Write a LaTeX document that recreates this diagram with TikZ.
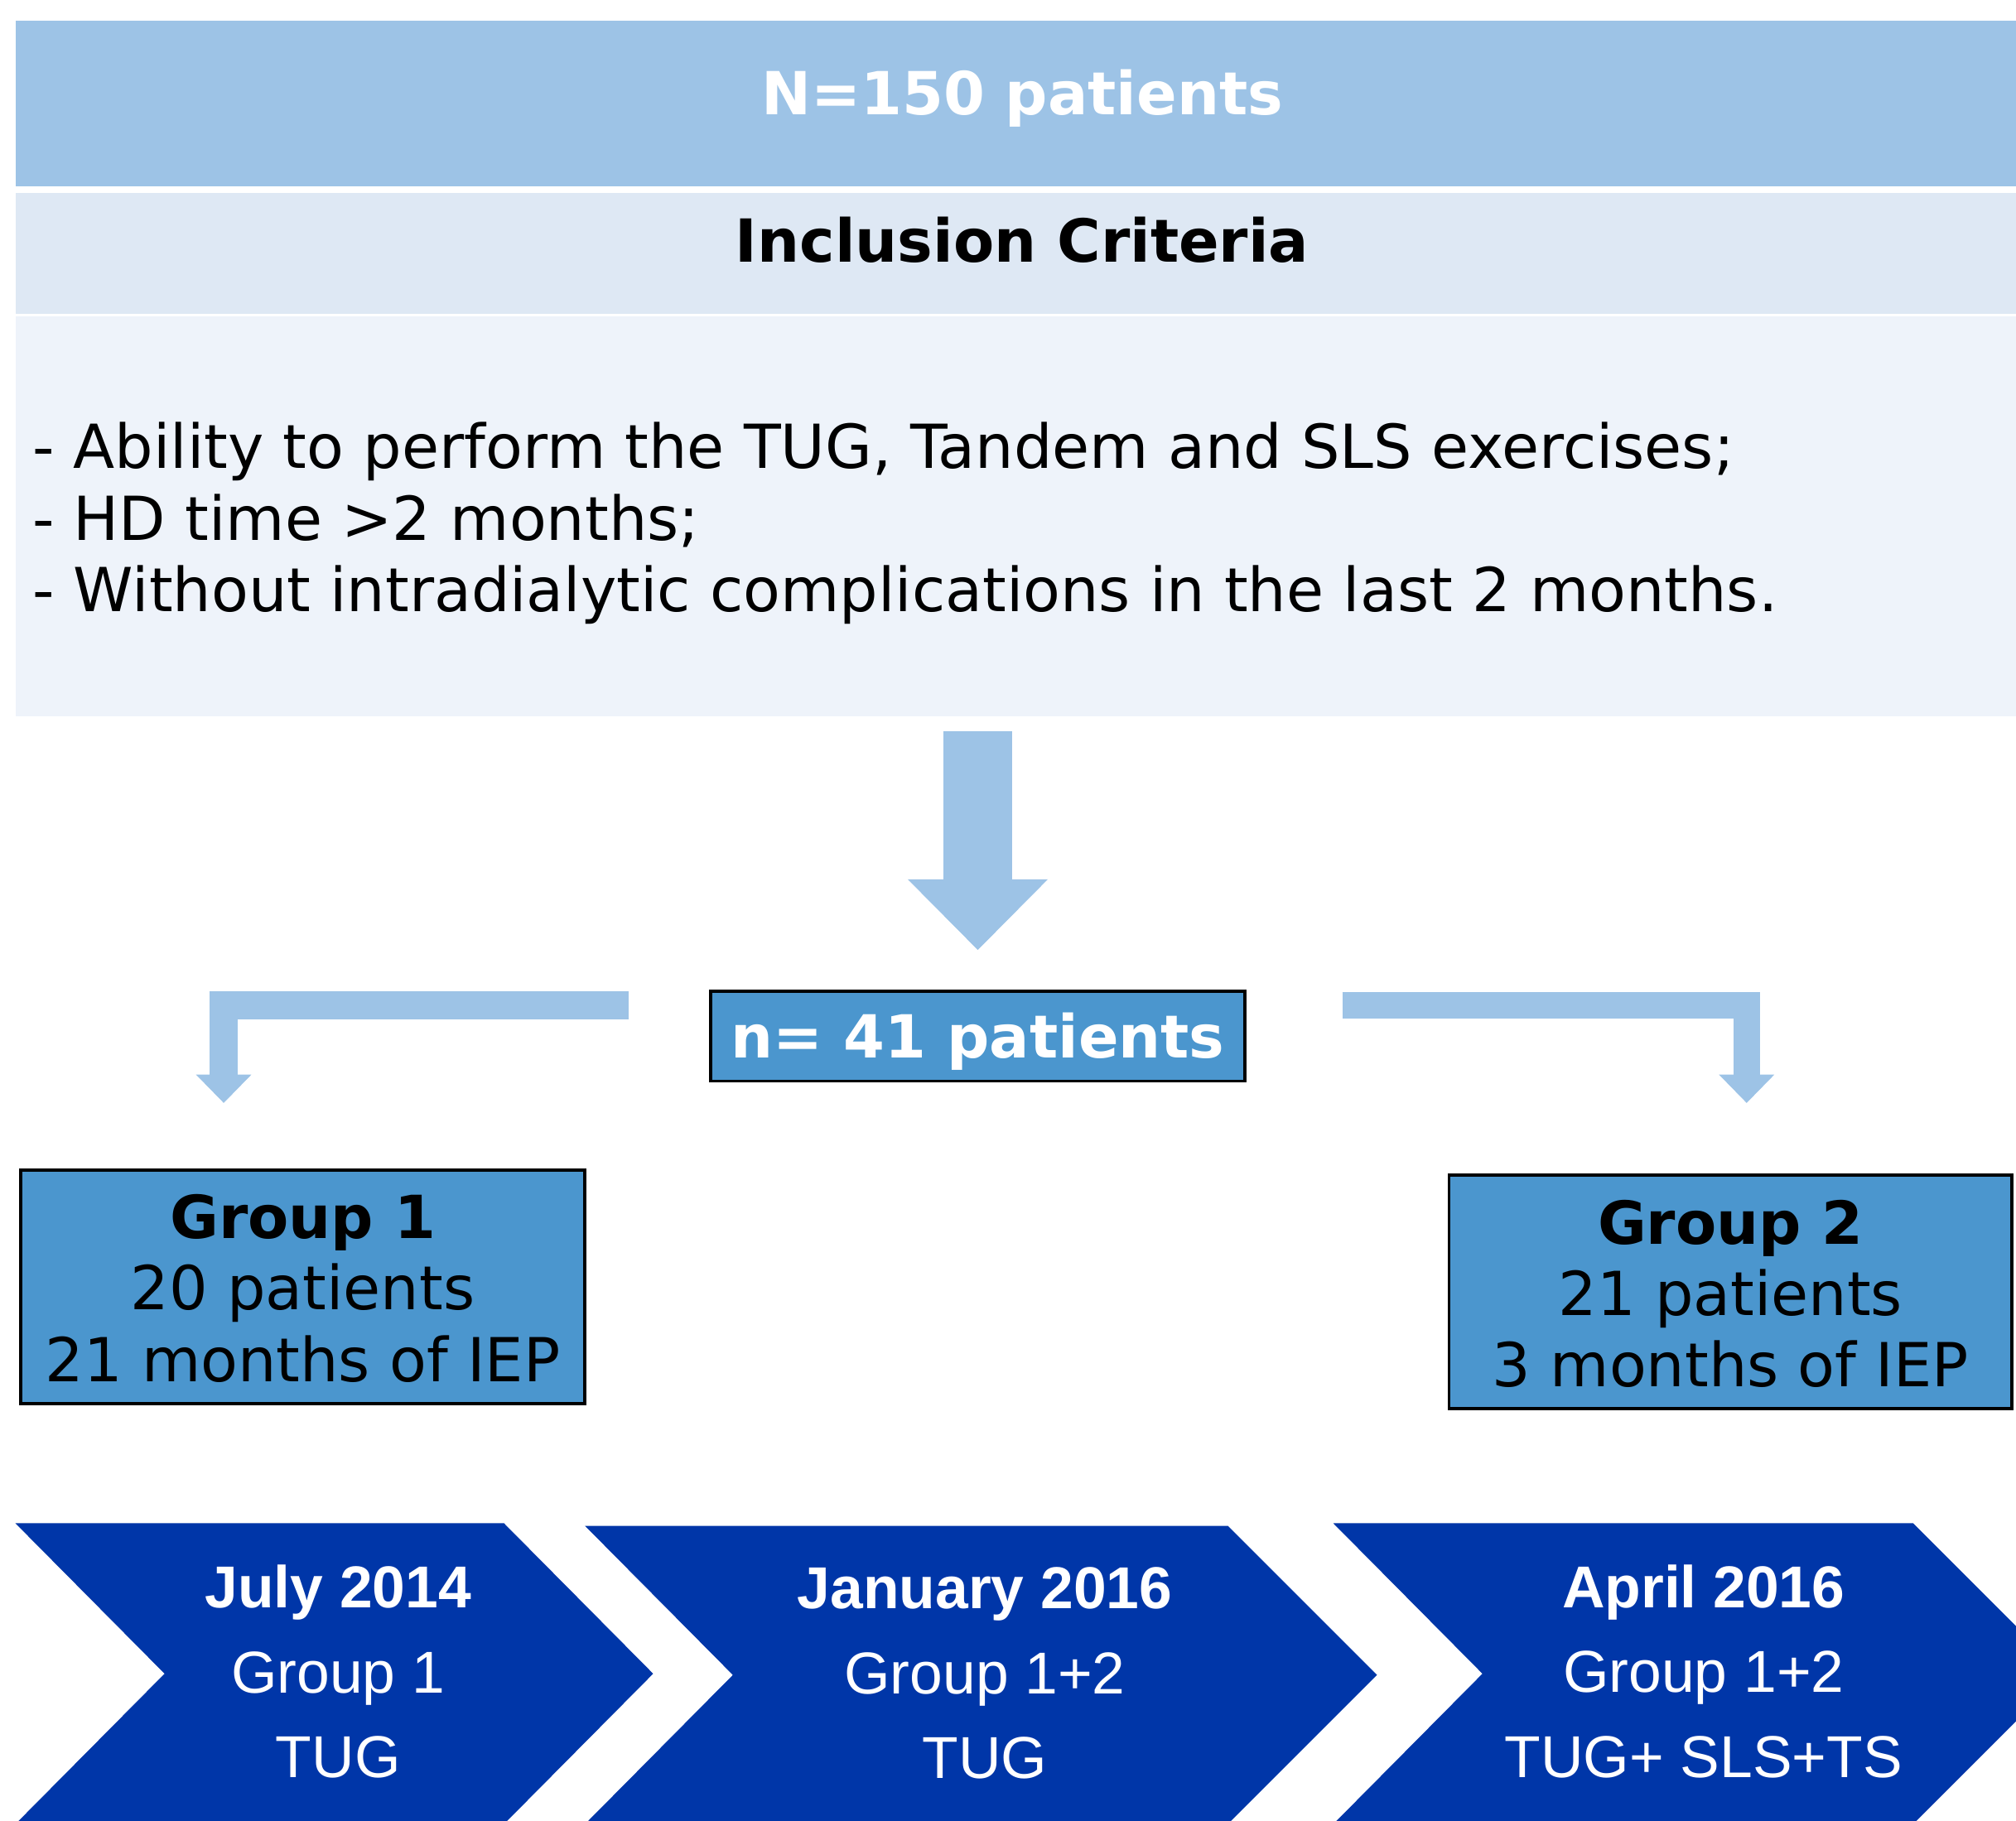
\documentclass[tikz,border=0pt]{standalone}
\usepackage{fontspec}
\setmainfont{DejaVu Sans}
\newfontfamily\arialf{Liberation Sans}
\usetikzlibrary{arrows.meta}
\definecolor{topblue}{HTML}{9DC3E6}
\definecolor{critband}{HTML}{DEE8F4}
\definecolor{critbody}{HTML}{EEF3FA}
\definecolor{boxblue}{HTML}{4B96CE}
\definecolor{chevblue}{HTML}{0036A8}
\begin{document}
\begin{tikzpicture}[x=1pt,y=-1pt,
  band/.style={draw=none, inner sep=0pt, outer sep=0pt, anchor=north west, minimum width=1560pt},
  bigbold/.style={font=\fontsize{46.2}{55}\selectfont\bfseries, inner sep=0pt, anchor=base},
  plaintxt/.style={font=\fontsize{47.2}{55}\selectfont, inner sep=0pt, anchor=base},
  groupbox/.style={draw=black, line width=2.5pt, fill=boxblue, inner sep=0pt},
  chevbold/.style={font=\fontsize{46}{55}\selectfont\arialf\bfseries, text=white, inner sep=0pt, anchor=base},
  chevplain/.style={font=\fontsize{46}{55}\selectfont\arialf, text=white, inner sep=0pt, anchor=base},
  fatarrow/.style={draw=topblue, line width=#1, line join=miter}
]
\useasboundingbox (0,0) rectangle (1568,1416);
\clip (0,0) rectangle (1568,1416);

% top section
\node[band, fill=topblue, minimum height=129pt] (top) at (12,16) {};
\node[band, fill=critband, minimum height=94pt] (critband) at (12,150) {};
\node[band, fill=critbody, minimum height=311pt] (body) at (12,246) {};
\node[bigbold, text=white] (ntxt) at (795,89) {N=150 patients};
\node[bigbold] (inc) at (795,204) {Inclusion Criteria};
\node[plaintxt, anchor=base west] (c1) at (25,364) {- Ability to perform the TUG, Tandem and SLS exercises;};
\node[plaintxt, anchor=base west] (c2) at (25,420.5) {- HD time >2 months;};
\node[plaintxt, anchor=base west] (c3) at (25,476) {- Without intradialytic complications in the last 2 months.};

% n=41 box
\node[groupbox, minimum width=415pt, minimum height=70pt, text=white,
      font=\fontsize{46.2}{55}\selectfont\bfseries, text height=34pt, text depth=0pt]
      (n41) at (760.5,806) {n= 41 patients};

% group boxes
\node[groupbox, minimum width=439pt, minimum height=182pt] (g1) at (235.5,1001) {};
\node[bigbold] (g1a) at (235.5,963.6) {Group 1};
\node[plaintxt] (g1b) at (235.5,1019) {20 patients};
\node[plaintxt] (g1c) at (235.5,1074.6) {21 months of IEP};

\node[groupbox, minimum width=438pt, minimum height=182pt] (g2) at (1346,1005) {};
\node[bigbold] (g2a) at (1346,968) {Group 2};
\node[plaintxt] (g2b) at (1346,1023.5) {21 patients};
\node[plaintxt] (g2c) at (1346,1079) {3 months of IEP};

% arrows
\coordinate (dstart) at (760.5,569);
\coordinate (dend) at (760.5,739);
\draw[fatarrow=54pt, -{Triangle[width=109pt,length=55pt,line width=0pt]}] (dstart) -- (dend);

\coordinate (lstart) at (489,782);
\coordinate (lend) at (174,858);
\draw[fatarrow=22pt, -{Triangle[width=43pt,length=22pt,line width=0pt]}] (lstart) -| (lend);

\coordinate (rstart) at (1044,782);
\coordinate (rend) at (1358.5,858);
\draw[fatarrow=21pt, -{Triangle[width=43pt,length=22pt,line width=0pt]}] (rstart) -| (rend);

% chevrons
\fill[chevblue] (12,1185) -- (392,1185) -- (508,1302) -- (392,1419) -- (12,1419) -- (128,1302) -- cycle;
\fill[chevblue] (455,1187) -- (955,1187) -- (1071,1303) -- (955,1419) -- (455,1419) -- (570,1303) -- cycle;
\fill[chevblue] (1037,1185) -- (1488,1185) -- (1605,1302) -- (1488,1419) -- (1037,1419) -- (1153,1302) -- cycle;

\node[chevbold] (t1a) at (263,1251) {July 2014};
\node[chevplain] (t1b) at (263,1317) {Group 1};
\node[chevplain] (t1c) at (263,1383) {TUG};

\node[chevbold] (t2a) at (766,1251.5) {January 2016};
\node[chevplain] (t2b) at (766,1317.5) {Group 1+2};
\node[chevplain] (t2c) at (766,1383.5) {TUG};

\node[chevbold] (t3a) at (1325,1251) {April 2016};
\node[chevplain] (t3b) at (1325,1316.5) {Group 1+2};
\node[chevplain] (t3c) at (1325,1383) {TUG+ SLS+TS};
\end{tikzpicture}
\end{document}
